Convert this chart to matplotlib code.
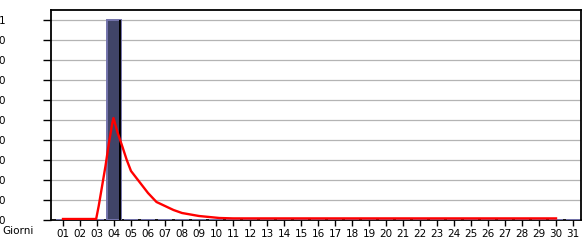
import numpy as np
import matplotlib
matplotlib.use('Agg')
import matplotlib.pyplot as plt

# days of the month and hits per day (only day 04 has a value)
days = np.arange(1, 32)
hits = [0, 0, 0, 1, 0, 0, 0, 0, 0, 0, 0, 0, 0, 0, 0, 0,
        0, 0, 0, 0, 0, 0, 0, 0, 0, 0, 0, 0, 0, 0, 0]
day_labels = ['%02d' % d for d in days]

# red trend curve
trend_x = [1, 2, 2.95, 3.1, 3.3, 3.5, 3.7, 3.9, 3.97, 4.2, 4.5, 4.75,
           5.0, 5.5, 6.0, 6.5, 7.0, 7.5, 8.0, 9.0, 10.2, 11.0, 30]
trend_y = [0.005, 0.005, 0.005, 0.07, 0.17, 0.27, 0.385, 0.485, 0.51, 0.44, 0.365, 0.30,
           0.245, 0.19, 0.135, 0.09, 0.07, 0.05, 0.035, 0.02, 0.01, 0.008, 0.008]

y_ticks = [0, 0.1, 0.2, 0.3, 0.4, 0.5, 0.6, 0.7, 0.8, 0.9, 1.0]
y_labels = ['0', '0', '0', '0', '0', '0', '0', '0', '0', '0', '1']

plt.rcParams['font.family'] = 'DejaVu Sans'
plt.rcParams['font.size'] = 7.5

fig = plt.figure(figsize=(5.85, 2.4), dpi=100)
ax = fig.add_axes([51 / 585, 20 / 240, 530 / 585, 210 / 240])

ax.set_xlim(0.294, 31.47)
ax.set_ylim(0, 1.05)

ax.yaxis.grid(True, color='#b4b4b4', linewidth=0.9)
ax.set_axisbelow(True)

# bars: light outline, dark body, black right edge
w = 0.8
ax.bar(days, hits, width=w, color='#404468', edgecolor='#7474ac', linewidth=1.4, zorder=2.6)
ax.bar(days + w / 2 - 0.06, hits, width=0.13, color='black', linewidth=0, zorder=2.7)

ax.plot(trend_x, trend_y, color='#ff0000', linewidth=1.7, zorder=3)

ax.set_xticks(days)
ax.set_xticklabels(day_labels)
ax.set_yticks(y_ticks)
ax.set_yticklabels(y_labels)
ax.tick_params(axis='x', length=4, width=1, pad=2.5, direction='out')
ax.tick_params(axis='y', length=6, width=1, pad=27, direction='out')

for s in ax.spines.values():
    s.set_linewidth(1.3)
    s.set_color('black')

fig.text(2 / 585, 1 - 231.5 / 240, 'Giorni', ha='left', va='center', fontsize=7.5)

fig.savefig('out.png', dpi=100)
